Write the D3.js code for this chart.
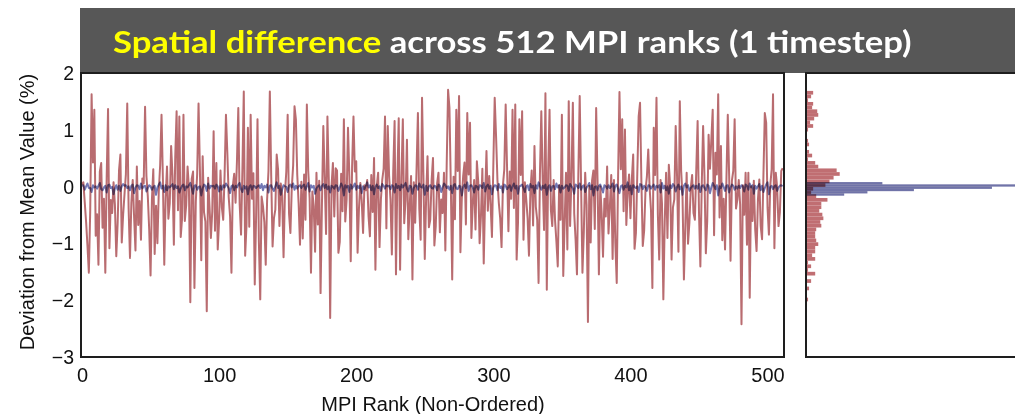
<!DOCTYPE html>
<html>
<head>
<meta charset="utf-8">
<script src="https://cdn.jsdelivr.net/npm/d3@7"></script>
<style>
  html, body { margin: 0; padding: 0; background: #fff; overflow: hidden; }
  svg { display: block; }
</style>
</head>
<body>
<svg id="chart" width="1015" height="414"></svg>
<script>
// Deviation from the mean value (%) for each of the 512 MPI ranks, one timestep.
const deviationHigh = [
  0.04,0.08,-0.27,-0.62,-1.04,-1.51,-0.41,1.63,0.43,1.36,-0.86,-0.48,-1.37,0.27,0.42,-0.72,
  -0.21,-1.51,0.17,1.37,-1.08,-0.23,-0.46,0.08,-0.31,-1.22,-0.64,0.29,0.57,-0.98,-0.49,-0.13,
  0.22,1.47,-0.38,-1.25,-0.28,0.12,-0.53,-1.12,0.36,-0.67,-0.25,-0.93,0.15,0.06,1.41,0.19,
  -0.17,-0.74,-1.56,-0.22,0.31,-1.18,-0.33,-0.99,-0.08,0.38,1.27,0.13,-1.37,-0.19,0.36,-0.56,
  -0.29,0.72,0.21,-1.02,0.52,1.33,-0.41,1.24,-0.88,-0.55,1.27,-0.6,-0.32,0.36,-0.03,-2.03,
  0.14,0.27,-1.78,-0.26,0.23,1.47,0.31,-1.29,0.54,-0.45,-0.61,-2.19,0.16,-0.34,-0.9,-0.43,
  0.98,-0.77,0.42,-1.1,-0.58,0.29,-0.36,-0.58,0.21,1.27,0.6,-0.18,-0.52,-1.51,0.02,0.23,
  -0.28,0.44,1.39,-0.31,-0.84,0.32,1.68,-1.21,-0.66,1.04,-0.7,1.27,-0.21,0.24,-1.72,-0.5,
  1.19,-0.96,-1.98,-0.17,-0.34,-0.62,-1.37,-0.23,0.28,1.68,0.19,-1.05,-0.55,-0.4,0.57,0.31,
  -0.69,0.06,-0.15,-1.24,-0.12,0.27,1.27,-0.47,-0.81,-0.02,0.38,1.42,1.19,0.21,-0.29,-1.02,
  0.09,-0.91,0.22,-0.58,1.45,0.28,-0.19,-1.51,-0.08,-0.34,-1.14,0.25,-0.66,0.11,-1.87,-0.31,
  1.07,0.18,-0.83,1.24,0.14,-2.31,0.02,0.42,-0.52,0.33,0.29,-1.16,-0.97,0.23,-0.43,1.19,
  -0.61,-0.22,1.04,0.19,-1.31,0.36,1.24,0.27,0.45,-1.16,-0.38,0.07,-0.24,-0.81,0.03,-0.06,
  0.12,-0.52,-0.87,0.21,-0.44,0.51,-1.46,0.02,0.25,-1.06,-0.22,0.13,0.32,1.24,-0.73,1.07,
  0.18,-0.22,-1.19,0.28,1.16,-1.54,0.12,1.21,-1.46,0.17,1.19,-0.64,-0.23,0.83,-0.92,-0.34,
  0.19,-1.63,0.08,-0.63,0.31,1.3,-0.39,-0.93,1.57,0.21,-1.27,-0.18,0.54,-0.71,-0.58,0.12,
  0.51,-1.03,-0.69,0.06,0.25,-0.8,-0.22,-0.46,0.25,-1.12,0.41,1.71,1.39,0.03,-1.63,0.18,
  -0.57,1.36,0.28,1.6,-1.15,-0.21,0.19,0.43,-0.66,1.3,0.22,1.13,-0.9,-0.29,0.12,-0.75,
  0.45,0.09,-0.99,-0.5,0.32,-1.35,-0.19,0.63,-0.42,0.19,-0.31,-0.88,0.38,1.57,0.89,0.12,
  -0.28,-0.55,-1.06,0.03,0.31,1.45,0.36,-0.78,0.27,-0.21,1.36,-0.37,1.45,-1.28,-0.62,1.19,
  0.21,1.33,-0.93,0.08,-0.22,-0.55,-1.21,-0.09,0.29,-0.68,0.72,-0.35,-0.58,-1.69,0.23,1.33,
  0.12,-0.76,1.65,-1.81,0.28,1.36,-0.41,-0.69,0.12,-0.58,-0.96,-1.4,0.03,-0.58,1.27,-1.57,
  -0.63,0.25,-1.1,1.51,-0.69,0.18,1.48,-0.47,-0.93,-1.54,0.22,1.6,0.04,-1.51,-0.8,0.25,
  -0.31,-2.38,0.02,-0.98,0.11,0.29,-0.74,1.39,0.13,-1.54,0.01,-0.46,-1.23,-0.21,-0.52,0.36,
  -0.82,-0.34,0.21,-1.27,0.12,-0.99,-1.69,0.19,1.67,0.31,1.19,-0.43,1.01,-0.67,-0.09,0.22,
  -0.55,0.13,0.57,-1.09,-0.81,0.23,1.24,1.48,0.09,-1.04,-0.77,-0.05,0.18,0.66,-0.02,-0.41,
  -1.78,1.04,0.21,1.57,-0.48,-1.28,0.12,-0.29,-1.98,-0.62,0.25,-0.9,0.39,0.01,-1.28,-0.36,
  -0.22,1.07,0.19,-1.14,1.51,0.28,-0.18,-1.63,-0.71,0.25,-1.0,-0.63,-0.02,0.21,-0.46,-0.58,
  0.29,1.16,-0.44,-1.4,0.02,1.07,0.18,-1.17,-0.6,0.92,0.32,0.83,1.36,-0.85,0.6,0.22,
  1.63,-0.54,0.72,-0.94,-0.21,-1.1,0.13,1.27,0.19,-1.3,0.11,0.28,1.19,-0.38,-0.22,0.12,
  -0.31,-2.42,0.03,-0.49,0.25,-1.02,0.25,-1.95,0.01,-0.6,0.11,-0.75,-1.13,-0.22,0.13,-0.69,
  -0.92,0.21,1.3,1.13,-0.37,-0.84,0.03,0.31,1.63,-1.08,0.25,-0.01,-0.69,-0.45,0.28,0.33
];

const deviationLow = [
  .02,.03,-.05,.01,.06,-.02,-.02,-.09,.03,-.01,.01,-.03,.02,.07,-.04,-.06,-.01,.02,-.1,.03,.04,-.02,0,-.13,-.03,.03,-.05,.02,-.07,.01,.05,.02,
  .03,-.02,.01,-.06,.02,.04,-.11,-.01,.03,.02,-.04,.06,-.03,.01,.02,-.08,-.02,.03,.01,-.05,0,.02,-.14,-.01,.04,.08,-.03,.02,-.09,.03,-.06,.01,
  -.01,.02,.05,-.04,.03,-.02,.01,-.1,-.03,.02,.04,-.06,.01,-.01,.03,.07,-.02,-.12,.02,.03,-.05,0,.01,-.15,-.02,.04,.02,-.07,.06,-.03,.02,.01,
  .02,-.03,.04,.01,-.08,.02,-.05,.03,-.01,.06,.02,-.02,-.11,.01,.03,-.06,.02,-.01,.04,.07,-.04,-.09,.02,-.03,.01,-.13,0,.03,-.05,.02,.01,-.02,
  .01,.03,-.02,.05,-.06,.02,-.01,.04,-.1,.02,.03,-.03,-.07,.01,.08,-.02,.02,-.14,-.04,.03,.01,0,-.09,.02,.04,-.01,.06,-.05,.02,-.03,.01,.03,
  -.02,.02,.04,-.05,.01,.07,-.08,.03,-.01,.02,-.12,-.03,.01,.03,-.06,.02,.05,-.02,.04,-.04,.01,-.1,.02,0,-.03,.03,.02,-.07,-.01,.06,.01,-.15,
  .03,-.01,.02,-.09,.04,-.03,.01,.06,-.05,.02,-.02,.03,-.11,.01,-.04,.02,.08,-.01,.03,-.06,.02,-.13,0,.04,-.02,.01,-.07,.05,.02,-.03,.03,.01,
  .02,-.04,.03,.01,-.1,.05,-.02,.02,-.06,.04,-.01,.03,.07,-.03,-.08,.02,.01,-.12,-.02,.03,.02,-.05,.06,0,-.01,.04,-.14,.02,-.07,.01,.03,-.02,
  -.03,.02,.01,-.06,.04,.02,-.09,-.01,.06,.03,-.02,.01,-.05,.02,-.11,.03,.05,-.03,-.04,.02,.01,-.15,0,.04,-.02,.08,-.07,.02,.03,-.01,-.1,.02,
  .01,-.05,.03,.02,-.02,.07,-.08,.01,.04,-.03,.02,-.13,-.01,.03,.02,-.06,.05,-.02,.01,-.1,.04,.02,-.04,0,.03,-.07,.01,.06,-.03,.02,-.12,.01,
  .02,.04,-.02,-.09,.01,.03,-.06,.05,-.01,.02,-.11,.03,-.03,.08,.01,-.05,.02,-.02,.04,-.14,0,.03,-.07,.01,.02,-.04,.06,-.01,.03,-.1,.02,-.03,
  -.01,.03,.02,-.07,.05,.01,-.03,-.12,.04,.02,-.02,.06,-.05,.01,.03,-.09,-.01,.02,.07,-.04,.03,-.15,0,.01,-.06,.02,.04,-.02,-.1,.03,.01,-.03,
  .03,-.02,.01,.06,-.08,.02,.04,-.03,-.11,.01,.03,-.05,.02,-.01,.08,-.06,.02,-.13,.03,0,-.02,.01,-.09,.05,.04,-.04,.02,-.01,-.07,.03,.02,-.03,
  .01,.04,-.05,.02,-.01,.03,-.1,.07,-.03,.02,-.06,.01,-.12,.03,-.02,.05,.02,-.08,0,.04,-.04,.01,-.14,.02,.06,-.01,.03,-.07,-.02,.01,.03,-.03,
  .02,-.03,.05,-.09,.01,.03,-.02,-.06,.04,.02,-.11,-.01,.07,.02,-.04,.03,-.15,.01,-.02,.06,0,-.07,.02,.03,-.1,-.01,.04,.02,-.05,.01,-.03,.02,
  -.02,.03,.01,-.08,.04,.02,-.05,.06,-.01,.03,-.12,.02,-.03,.01,.05,-.06,.02,-.09,-.02,.04,.08,-.13,0,.02,-.04,.01,.03,-.07,-.01,.02,.03,.01
];

const xTicks = [0, 100, 200, 300, 400, 500];
const yTicks = [2, 1, 0, -1, -2, -3];
const titleHighlight = "Spatial difference";
const titleRest = " across 512 MPI ranks (1 timestep)";
const yLabel = "Deviation from Mean Value (%)";
const xLabel = "MPI Rank (Non-Ordered)";

// histogram bin edges for the two series
const edgesHigh = d3.range(-2.535, 1.80, 0.065);
const edgesLow = [-0.155, -0.115, -0.075, -0.035, 0.005, 0.045, 0.085];

const svg = d3.select("#chart");
const font = "'Liberation Sans', Arial, Helvetica, sans-serif";

const plot = { left: 81, right: 784, top: 73, bottom: 357 };
const hist = { left: 806, top: 73, bottom: 357 };

const x = d3.scaleLinear().domain([0, 512]).range([82, 784]);
const y = d3.scaleLinear().domain([-3, 2]).range([357.3, 73.3]);

// title banner
svg.append("rect")
  .attr("x", 80).attr("y", 8).attr("width", 945).attr("height", 65)
  .attr("fill", "#575757");

const title = svg.append("text")
  .attr("x", 113).attr("y", 53)
  .style("font-family", "Lato, 'Open Sans', sans-serif")
  .style("font-weight", 700)
  .style("font-size", "31px");
title.append("tspan").attr("fill", "#ffff00").text(titleHighlight);
title.append("tspan").attr("fill", "#ffffff").text(titleRest);
const tw = title.node().getComputedTextLength();
const sx = 799 / tw;
title.attr("transform", `translate(${113 * (1 - sx)},0) scale(${sx},1)`);

// clip for the line plot
svg.append("clipPath").attr("id", "plotClip")
  .append("rect")
  .attr("x", plot.left).attr("y", plot.top)
  .attr("width", plot.right - plot.left).attr("height", plot.bottom - plot.top);

const line = d3.line()
  .x((d, i) => x(i))
  .y(d => y(d));

const lines = svg.append("g").attr("clip-path", "url(#plotClip)");
lines.append("path")
  .datum(deviationHigh)
  .attr("fill", "none")
  .attr("stroke", "#a8474c")
  .attr("stroke-opacity", 0.8)
  .attr("stroke-width", 2)
  .attr("stroke-linejoin", "round")
  .attr("d", line);
lines.append("path")
  .datum(deviationLow)
  .attr("fill", "none")
  .attr("stroke", "#5a60a8")
  .attr("stroke-opacity", 0.85)
  .attr("stroke-width", 2)
  .attr("stroke-linejoin", "round")
  .style("mix-blend-mode", "multiply")
  .attr("d", line);

// main frame
svg.append("rect")
  .attr("x", plot.left).attr("y", plot.top)
  .attr("width", plot.right - plot.left).attr("height", plot.bottom - plot.top)
  .attr("fill", "none").attr("stroke", "#1e1e1e").attr("stroke-width", 2);

// axes
const yAxis = svg.append("g")
  .attr("transform", `translate(${plot.left},0)`)
  .call(d3.axisLeft(y).tickValues(yTicks).tickFormat(d3.format("d")).tickSize(0).tickPadding(7));
yAxis.select(".domain").remove();
yAxis.selectAll("text")
  .style("font-family", font).style("font-size", "19.5px").attr("fill", "#111");

const xAxis = svg.append("g")
  .attr("transform", `translate(0,${plot.bottom})`)
  .call(d3.axisBottom(x).tickValues(xTicks).tickFormat(d3.format("d")).tickSize(0).tickPadding(11));
xAxis.select(".domain").remove();
xAxis.selectAll("text")
  .style("font-family", font).style("font-size", "20px").attr("fill", "#111");

svg.append("text")
  .attr("transform", `translate(34,212) rotate(-90)`)
  .attr("text-anchor", "middle")
  .style("font-family", font).style("font-size", "20px").attr("fill", "#111")
  .text(yLabel);

svg.append("text")
  .attr("x", 433).attr("y", 411)
  .attr("text-anchor", "middle")
  .style("font-family", font).style("font-size", "20px").attr("fill", "#111")
  .text(xLabel);

// marginal histograms (probability density, horizontal bars)
const hx = d3.scaleLinear().domain([0, 1]).range([hist.left, hist.left + 34]);

function density(values, edges) {
  const bins = d3.bin()
    .domain([edges[0], edges[edges.length - 1]])
    .thresholds(edges)(values);
  return bins
    .filter(b => b.x1 > b.x0)
    .map(b => ({ x0: b.x0, x1: b.x1, d: b.length / (values.length * (b.x1 - b.x0)) }));
}

const hHigh = density(deviationHigh, edgesHigh);
const hLow = density(deviationLow, edgesLow);

const hg = svg.append("g");
hg.selectAll("rect.high").data(hHigh.filter(b => b.d > 0)).join("rect")
  .attr("class", "high")
  .attr("x", hist.left)
  .attr("y", b => y(b.x1))
  .attr("width", b => hx(b.d) - hist.left)
  .attr("height", b => y(b.x0) - y(b.x1))
  .attr("fill", "#c06e72");
hg.selectAll("rect.low").data(hLow.filter(b => b.d > 0)).join("rect")
  .attr("class", "low")
  .attr("x", hist.left)
  .attr("y", b => y(b.x1))
  .attr("width", b => hx(b.d) - hist.left)
  .attr("height", b => y(b.x0) - y(b.x1))
  .attr("fill", "#7073a8")
  .style("mix-blend-mode", "multiply");

// histogram frame (right side runs off the canvas)
svg.append("rect")
  .attr("x", hist.left).attr("y", hist.top)
  .attr("width", 260).attr("height", hist.bottom - hist.top)
  .attr("fill", "none").attr("stroke", "#1e1e1e").attr("stroke-width", 2);
</script>
</body>
</html>
